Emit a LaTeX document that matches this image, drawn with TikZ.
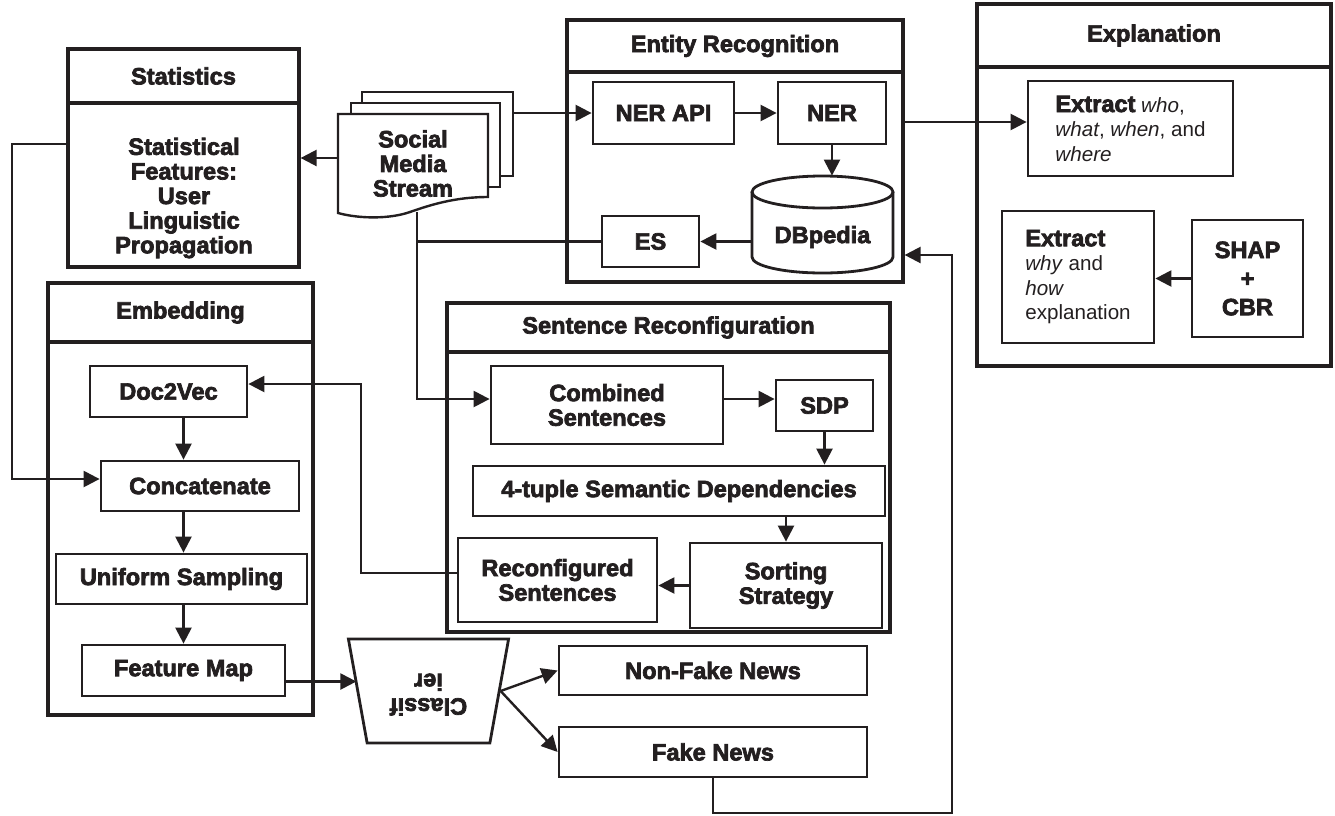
\documentclass[tikz,border=0pt]{standalone}
\usepackage{fontspec}
\setmainfont{Liberation Sans}[BoldFeatures={FakeBold=3}]
\usetikzlibrary{arrows.meta,shapes.geometric}
\definecolor{ink}{HTML}{231F20}
\newcommand\hvfont{\bfseries\fontsize{11.8}{12.3}\selectfont}
\newcommand\rgfont{\fontsize{10.3}{12.25}\selectfont}
\begin{document}
\begin{tikzpicture}[x=0.5pt,y=-0.5pt,
  every node/.style={text=ink},
  % rectangle given by its corners (x1,y1) (x2,y2), in picture units
  frame/.style n args={4}{rectangle, inner sep=0pt,
    minimum width={(#3-#1)*0.5pt}, minimum height={(#4-#2)*0.5pt},
    at={({(#1+#3)/2},{(#2+#4)/2})}},
  grp/.style={draw=ink, line width=1.6pt, inner sep=0pt},
  ttl/.style={draw=ink, line width=1.6pt, inner sep=0pt, font=\hvfont},
  box/.style={draw=ink, line width=1.4pt, inner sep=0pt, align=center, font=\hvfont},
  txt/.style={inner sep=0pt, align=center, font=\hvfont},
  sheet/.style={draw=ink, fill=white, line width=1.2pt},
  arr/.style={draw=ink, line width=1.2pt, -{Triangle[length=8pt,width=8pt]}},
  ln/.style={draw=ink, line width=1.2pt}]
\useasboundingbox (0,0) rectangle (1335,815);

% ---------- group frames ----------
\node[grp, frame={68}{49}{299}{267}] (stat) {};
\node[ttl, frame={68}{49}{299}{103}] (statT) {Statistics};
\node[txt] (statB) at (184,198) {Statistical\\Features:\\User\\Linguistic\\Propagation};

\node[grp, frame={567}{20}{903}{282}] (er) {};
\node[ttl, frame={567}{20}{903}{72}] (erT) {Entity Recognition};

\node[grp, frame={977}{4}{1331}{366}] (expl) {};
\node[ttl, frame={977}{4}{1331}{67}] (explT) {Explanation};

\node[grp, frame={48}{283}{313}{715}] (emb) {};
\node[ttl, frame={48}{283}{313}{342}] (embT) {Embedding};

\node[grp, frame={447}{303}{890}{632}] (sr) {};
\node[ttl, frame={447}{303}{890}{352}] (srT) {Sentence Reconfiguration};

% ---------- social media stream (stacked documents) ----------
\node[sheet, frame={362}{92}{513}{176}] (doc3) {};
\node[sheet, frame={351}{103}{500}{187}] (doc2) {};
\draw[ink, fill=white, line width=1.2pt] (338,114) -- (488,114) -- (488,197)
  .. controls (455,197) and (430,205) .. (410,212)
  .. controls (390,219) and (360,219) .. (338,213) -- cycle;
\node[txt, frame={338}{114}{488}{213}] (doc) {Social\\Media\\Stream};
\coordinate (tap) at (417,212);

% ---------- entity recognition ----------
\node[box, frame={593}{82}{734}{144}] (nerapi) {NER API};
\node[box, frame={778}{82}{886}{144}] (ner) {NER};
\node[frame={752}{176}{893}{273}] (dbp) {};
\draw[ink, line width=1.4pt, fill=white] (752,192) -- (752,257)
  arc[start angle=180, end angle=360, x radius=35.25pt, y radius=8pt] -- (893,192);
\draw[ink, line width=1.4pt] (822.5,192) ellipse [x radius=35.25pt, y radius=8pt];
\node[txt] (dbpT) at (822.5,237) {DBpedia};
\node[box, frame={602}{216}{699}{267}] (es) {ES};

% ---------- explanation ----------
\node[box, font=\rgfont, align=left, frame={1028}{81}{1233}{176}] (who)
  {\textbf{\hvfont Extract} \textit{who},\\\textit{what}, \textit{when}, and\\\textit{where}};
\node[box, font=\rgfont, align=left, frame={1002}{211}{1154}{343}] (why)
  {\textbf{\hvfont Extract}\\\textit{why} and\\\textit{how}\\explanation};
\node[box, frame={1192}{220}{1303}{337}] (shap) {SHAP\\[2pt]+\\[2pt]CBR};

% ---------- embedding ----------
\node[box, frame={90}{366}{247}{417}] (doc2vec) {Doc2Vec};
\node[box, frame={101}{461}{299}{511}] (concat) {Concatenate};
\node[box, frame={56}{554}{307}{604}] (unif) {Uniform Sampling};
\node[box, frame={82}{645}{285}{696}] (fmap) {Feature Map};

% ---------- sentence reconfiguration ----------
\node[box, frame={491}{366}{723}{444}] (comb) {Combined\\Sentences};
\node[box, frame={776}{380}{873}{431}] (sdp) {SDP};
\node[box, frame={473}{466}{885}{516}] (tuple) {4-tuple Semantic Dependencies};
\node[box, frame={690}{543}{882}{628}] (sort) {Sorting\\Strategy};
\node[box, frame={458}{538}{657}{622}] (reconf) {Reconfigured\\Sentences};

% ---------- classifier and outcomes ----------
\node[trapezium, draw=ink, line width=1.4pt, inner sep=0pt,
  trapezium left angle=76.5, trapezium right angle=76.5, trapezium stretches=true,
  minimum width=80.5pt, minimum height=52pt, shape border rotate=180, font=\hvfont]
  (cls) at (428.5,691)
  {\rotatebox{180}{\begin{tabular}{@{}c@{}}Classif\\ier\end{tabular}}};
\node[box, frame={559}{646}{867}{695}] (nonfake) {Non-Fake News};
\node[box, frame={559}{727}{867}{777}] (fake) {Fake News};

% ---------- bend points ----------
\coordinate (bendL) at (12,144);
\coordinate (bendR) at (361,384);
\coordinate (fbR) at (952,813);

% ---------- connectors ----------
\draw[arr] (stat.east -| doc.west) -- (stat.east);
\draw[arr] (doc3.east |- nerapi.west) -- (nerapi.west);
\draw[arr] (nerapi) -- (ner);
\draw[arr] (ner.south) -- (ner.south |- dbp.north);
\draw[arr] (es.east -| dbp.west) -- (es.east);
\draw[ln] (es.west) -- (es.west -| tap);
\draw[arr] (tap) |- ([yshift=3pt]comb.west);
\draw[arr] ([yshift=3pt]comb.east) -- ([yshift=3pt]comb.east -| sdp.west);
\draw[arr] (sdp.south) -- (sdp.south |- tuple.north);
\draw[arr] (sort.north |- tuple.south) -- (sort.north);
\draw[arr] (sort.west) -- (sort.west -| reconf.east);
\draw[arr] ([yshift=3.5pt]reconf.west) -- ([yshift=3.5pt]reconf.west -| bendR) |- ([yshift=3.75pt]doc2vec.east);
\draw[arr] ([yshift=7pt]stat.west) -- (bendL) |- ([yshift=3.5pt]concat.west);
\draw[arr] (doc2vec.south -| fmap) -- (concat.north -| fmap);
\draw[arr] (concat.south -| fmap) -- (unif.north -| fmap);
\draw[arr] (unif.south -| fmap) -- (fmap.north);
\draw[arr] ([yshift=-5.5pt]fmap.east) -- ([yshift=-5.5pt]fmap.east -| cls.180);
\draw[arr] (cls.0) -- (nonfake.west);
\draw[arr] (cls.0) -- (fake.west);
\draw[arr] (fake.south) |- (fbR) |- ([yshift=-52pt]er.east);
\draw[arr] ([yshift=3.25pt]who.west -| er.east) -- ([yshift=3.25pt]who.west);
\draw[arr] (shap.west) -- (shap.west -| why.east);
\end{tikzpicture}
\end{document}
